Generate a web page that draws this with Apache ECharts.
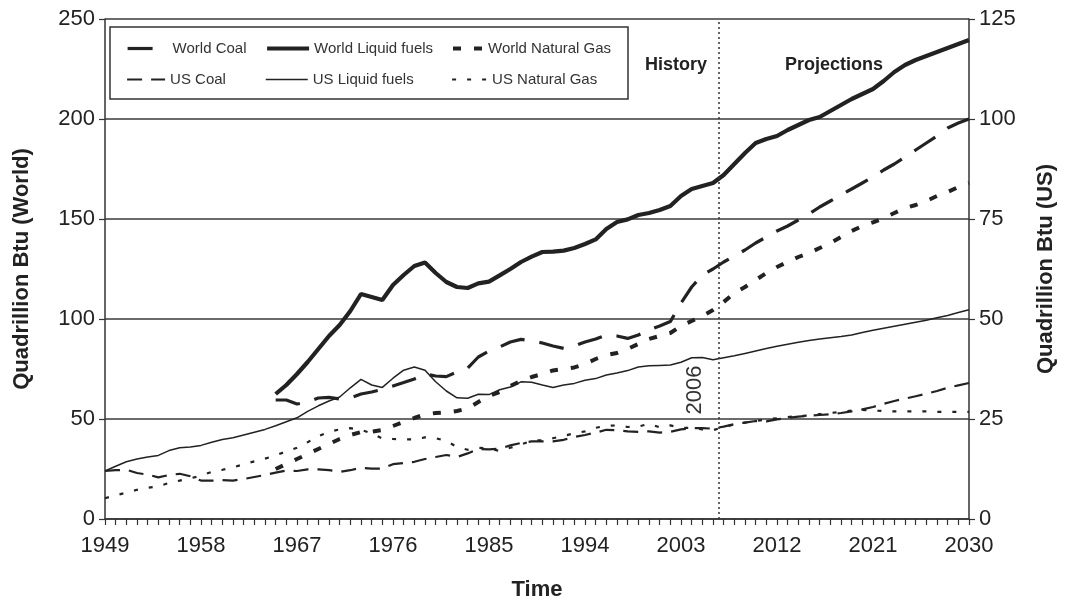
<!DOCTYPE html>
<html>
<head>
<meta charset="utf-8">
<script src="https://cdn.jsdelivr.net/npm/echarts@6/dist/echarts.min.js"></script>
<style>html,body{margin:0;padding:0;background:#fff}#c{width:1065px;height:608px}</style>
</head>
<body>
<div id="c"></div>
<script>
// ---- Data (Quadrillion Btu). World series on left axis, US series on right axis ----
const years = [];
for (let y = 1949; y <= 2030; y++) years.push(String(y));

const worldTicks = [0, 50, 100, 150, 200, 250];
const usTicks = [0, 25, 50, 75, 100, 125];
const historyEnd = 2006.5; // boundary between History and Projections

// World series start in 1965 (16 empty years 1949-1964)
const pre = [null,null,null,null,null,null,null,null,null,null,null,null,null,null,null,null];

const worldCoal = pre.concat([
  59.5, 59.5, 57.5, 58.5, 60.5, 60.8, 60.0, 60.5, 62.5, 63.5,
  64.8, 66.5, 68.2, 70.0, 72.5, 71.5, 71.2, 73.5, 75.5, 81.0,
  84.0, 86.0, 88.5, 89.8, 89.0, 88.0, 86.5, 85.3, 86.5, 88.5,
  90.0, 92.0, 91.5, 90.3, 92.0, 94.5, 96.5, 98.7, 108.0, 116.0,
  122.0, 125.0, 128.5, 131.5, 134.5, 138.0, 141.0, 144.0, 146.5, 149.5,
  152.5, 156.0, 159.0, 162.0, 165.0, 168.0, 171.0, 174.5, 177.5, 181.0,
  184.5, 188.0, 191.5, 195.5, 198.0, 200.0
]);

const worldLiquid = pre.concat([
  62.5, 67.0, 72.5, 78.5, 85.0, 91.5, 97.0, 104.0, 112.5, 111.0,
  109.5, 117.0, 122.0, 126.5, 128.3, 123.0, 118.5, 116.0, 115.5, 117.8,
  118.7, 121.8, 125.0, 128.5, 131.2, 133.5, 133.7, 134.2, 135.5, 137.5,
  139.8, 145.0, 148.5, 149.8, 152.0, 153.0, 154.5, 156.5, 161.5, 165.0,
  166.5, 168.0, 172.0, 177.5, 183.0, 188.0, 190.0, 191.5, 194.5, 197.0,
  199.5, 201.0, 204.0, 207.0, 210.0, 212.5, 215.0, 219.0, 223.5, 227.0,
  229.5, 231.5, 233.5, 235.5, 237.5, 239.5
]);

const worldGas = pre.concat([
  25.0, 27.5, 30.0, 32.5, 35.0, 37.5, 40.0, 42.0, 43.5, 43.7,
  44.5, 46.5, 48.5, 50.5, 52.3, 53.0, 53.3, 54.0, 55.3, 58.5,
  61.5, 63.5, 66.5, 69.0, 71.0, 72.5, 74.3, 75.0, 75.8, 77.5,
  80.0, 82.0, 83.0, 85.0, 87.5, 90.0, 91.5, 93.0, 96.5, 99.0,
  101.5, 104.5, 108.5, 113.0, 116.0, 119.5, 123.0, 126.0, 128.5, 131.0,
  133.0, 135.5, 138.0, 141.0, 144.0, 146.5, 148.3, 150.5, 153.0, 155.5,
  157.0, 159.0, 161.5, 163.5, 166.0, 168.0
]);

const usCoal = [
  12.0, 12.2, 12.3, 11.5, 11.1, 10.4, 11.0, 11.3, 10.7, 9.6,
  9.6, 9.7, 9.6, 10.0, 10.5, 11.0, 11.6, 12.1, 12.0, 12.4,
  12.4, 12.2, 11.8, 12.2, 12.8, 12.6, 12.6, 13.7, 14.0, 14.3,
  15.0, 15.5, 16.0, 15.5, 16.4, 17.5, 17.4, 17.6, 18.4, 19.0,
  19.4, 19.4, 19.4, 19.8, 20.5, 21.0, 21.6, 22.3, 22.2, 21.9,
  21.8, 21.9, 21.6, 21.8, 22.4, 22.7, 22.7, 22.6, 23.1, 23.7,
  24.1, 24.5, 24.4, 24.9, 25.3, 25.6, 25.8, 26.0, 26.2, 26.5,
  26.9, 27.4, 28.0, 28.8, 29.5, 30.1, 30.7, 31.3, 32.0, 32.8,
  33.4, 34.0
];

const usLiquid = [
  12.0, 13.2, 14.3, 15.0, 15.5, 15.9, 17.1, 17.8, 18.0, 18.4,
  19.2, 19.9, 20.3, 21.0, 21.7, 22.4, 23.3, 24.3, 25.3, 26.9,
  28.3, 29.5, 30.5, 32.8, 34.9, 33.5, 32.9, 35.2, 37.2, 38.0,
  37.2, 34.3, 32.0, 30.3, 30.2, 31.2, 31.1, 32.3, 33.0, 34.3,
  34.2, 33.5, 32.9, 33.5, 33.9, 34.7, 35.1, 36.0, 36.5, 37.1,
  38.0, 38.3, 38.4, 38.5, 39.2, 40.3, 40.4, 39.8, 40.3, 40.8,
  41.4, 42.0, 42.6, 43.2, 43.7, 44.2, 44.6, 45.0, 45.3, 45.6,
  46.0, 46.6, 47.2, 47.7, 48.2, 48.7, 49.2, 49.7, 50.3, 50.9,
  51.6, 52.3
];

const usGas = [
  5.2, 5.9, 6.6, 7.3, 7.8, 8.2, 9.0, 9.6, 10.2, 10.8,
  11.8, 12.3, 12.9, 13.7, 14.4, 15.1, 15.9, 16.9, 17.8, 19.2,
  20.7, 21.8, 22.4, 22.7, 22.3, 21.4, 20.1, 20.0, 19.9, 19.9,
  20.4, 20.2, 19.5, 18.0, 17.3, 17.8, 17.6, 17.0, 17.8, 18.6,
  19.6, 19.7, 20.2, 20.8, 21.4, 21.9, 22.8, 23.3, 23.4, 23.0,
  23.1, 23.8, 22.9, 23.4, 22.8, 22.8, 22.4, 22.2, 23.0, 23.6,
  24.1, 24.5, 24.9, 25.2, 25.5, 25.7, 25.9, 26.2, 26.5, 26.8,
  27.1, 27.3, 27.1, 27.0, 26.9, 26.9, 26.9, 26.9, 26.8, 26.8,
  26.8, 26.8
];

const FONT = '"Liberation Sans", Arial, sans-serif';
const INK = '#222';

function mk(name, data, yIdx, width, type) {
  return {
    name: name, type: 'line', data: data, yAxisIndex: yIdx, xAxisIndex: 0,
    showSymbol: false, symbol: 'none', connectNulls: false, silent: true,
    lineStyle: { color: INK, width: width, type: type, cap: 'butt' },
    itemStyle: { color: INK },
    z: 2
  };
}

const series = [
  mk('World Coal', worldCoal, 0, 3.2, [25, 15]),
  mk('World Liquid fuels', worldLiquid, 0, 4.2, 'solid'),
  mk('World Natural Gas', worldGas, 0, 4, [8, 13]),
  mk('US Coal', usCoal, 1, 2.2, [15, 9]),
  mk('US Liquid fuels', usLiquid, 1, 1.5, 'solid'),
  mk('US Natural Gas', usGas, 1, 2.2, [4, 11]),
  {
    name: 'divider', type: 'line', data: [], xAxisIndex: 1, yAxisIndex: 0, silent: true,
    markLine: {
      symbol: 'none', silent: true, animation: false,
      label: { show: false },
      lineStyle: { color: '#333', width: 1.5, type: [2, 3] },
      data: [{ xAxis: historyEnd }]
    }
  }
];

function lg(name, left, top, w) {
  return {
    data: [name], left: left, top: top, itemWidth: w, itemHeight: 4,
    selectedMode: false, padding: 0, z: 6,
    textStyle: { fontSize: 15, color: '#333', fontFamily: FONT },
    itemStyle: { opacity: 0 },
    lineStyle: { width: 'inherit', type: 'inherit' }
  };
}
const legends = [
  lg('World Coal', 126, 41, 40),
  lg('World Liquid fuels', 265, 41, 42),
  lg('World Natural Gas', 451, 41, 30),
  lg('US Coal', 126, 72, 38),
  lg('US Liquid fuels', 265, 72, 42),
  lg('US Natural Gas', 451, 72, 35)
];

const chart = echarts.init(document.getElementById('c'), null, { renderer: 'canvas' });
chart.setOption({
  animation: false,
  backgroundColor: '#fff',
  textStyle: { fontFamily: FONT },
  grid: { left: 105, right: 95, top: 19, bottom: 89, containLabel: false },
  legend: legends,
  xAxis: [{
    type: 'category', data: years, boundaryGap: false,
    name: 'Time', nameLocation: 'middle', nameGap: 60,
    nameTextStyle: { fontSize: 22, fontWeight: 'bold', color: INK, fontFamily: FONT },
    axisLine: { lineStyle: { color: '#333', width: 1.5 } },
    axisTick: { show: true, interval: 0, length: 6, lineStyle: { color: '#333', width: 1.2 } },
    axisLabel: { interval: 8, fontSize: 22, color: INK, margin: 16, fontFamily: FONT },
    splitLine: { show: false }
  }, {
    type: 'value', min: 1949, max: 2030, show: false,
    splitLine: { show: false }
  }],
  yAxis: [
    {
      type: 'value', min: worldTicks[0], max: worldTicks[worldTicks.length - 1], interval: 50,
      name: 'Quadrillion Btu (World)', nameLocation: 'middle', nameGap: 72,
      nameTextStyle: { fontSize: 22, fontWeight: 'bold', color: INK, fontFamily: FONT },
      axisLine: { show: true, lineStyle: { color: '#333', width: 1.5 } },
      axisTick: { show: true, length: 6, lineStyle: { color: '#333', width: 1.2 } },
      axisLabel: { fontSize: 22, color: INK, margin: 10, fontFamily: FONT },
      splitLine: { show: true, lineStyle: { color: '#3a3a3a', width: 1.5 } }
    },
    {
      type: 'value', min: usTicks[0], max: usTicks[usTicks.length - 1], interval: 25,
      position: 'right',
      name: 'Quadrillion Btu (US)', nameLocation: 'middle', nameGap: 66, nameRotate: 90,
      nameTextStyle: { fontSize: 22, fontWeight: 'bold', color: INK, fontFamily: FONT },
      axisLine: { show: true, lineStyle: { color: '#333', width: 1.5 } },
      axisTick: { show: true, length: 6, lineStyle: { color: '#333', width: 1.2 } },
      axisLabel: { fontSize: 22, color: INK, margin: 10, fontFamily: FONT },
      splitLine: { show: false }
    }
  ],
  graphic: [
    { type: 'rect', z: 5, silent: true,
      shape: { x: 110, y: 27, width: 518, height: 72 },
      style: { fill: '#fff', stroke: '#333', lineWidth: 1.5 } },
    { type: 'text', z: 5, silent: true, x: 676, y: 65,
      style: { text: 'History', font: 'bold 18px ' + FONT, fill: INK, align: 'center', verticalAlign: 'middle' } },
    { type: 'text', z: 5, silent: true, x: 834, y: 65,
      style: { text: 'Projections', font: 'bold 18px ' + FONT, fill: INK, align: 'center', verticalAlign: 'middle' } },
    { type: 'text', z: 5, silent: true, x: 695, y: 390, rotation: Math.PI / 2,
      style: { text: '2006', font: '22px ' + FONT, fill: '#333', align: 'center', verticalAlign: 'middle' } }
  ],
  series: series
});
</script>
</body>
</html>
